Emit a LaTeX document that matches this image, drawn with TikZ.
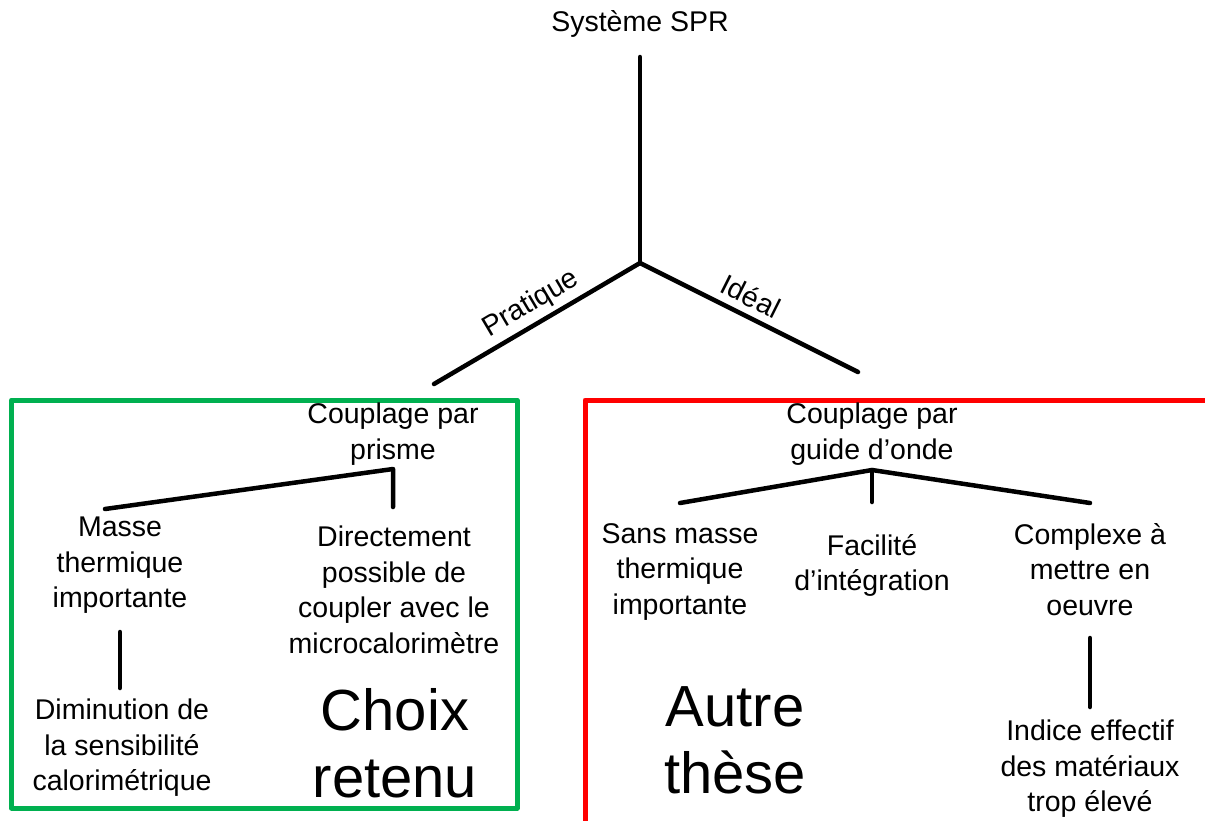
\documentclass[tikz,border=0pt]{standalone}
\usepackage{fontspec}
\setmainfont{Liberation Sans}
\definecolor{boxgreen}{RGB}{0,176,80}
\definecolor{boxred}{RGB}{255,0,0}
\begin{document}
\begin{tikzpicture}[x=1pt,y=-1pt,
  txt/.style={align=center, font=\fontsize{28.5}{35.5}\selectfont, inner sep=0pt, anchor=north},
  big/.style={align=center, font=\fontsize{58}{67}\selectfont, inner sep=0pt, anchor=north},
  lbl/.style={font=\fontsize{28.5}{35}\selectfont, inner sep=0pt},
  conn/.style={line width=4.5pt, line cap=round, line join=round},
  frame/.style={line width=5pt, line join=round},
]
\useasboundingbox (0,0) rectangle (1205,820);

% top
\node[txt] (sys) at (640,10) {Système SPR};
\coordinate (systop) at (640,57);
\coordinate (hub) at (640,263);
\coordinate (leftend) at (434,384);
\coordinate (rightend) at (858,372);
\draw[conn] (systop) -- (hub);
\draw[conn] (hub) -- (leftend);
\draw[conn] (hub) -- (rightend);
\node[lbl, rotate=30.6] (prat) at (531,304) {Pratique};
\node[lbl, rotate=-26.6] (ideal) at (751,296) {Idéal};

% green frame
\draw[frame, boxgreen] (11.5,400) rectangle (517,808);
% red frame (open)
\draw[frame, boxred] (585,822) -- (585,400) -- (1207,400);

% left subtree
\node[txt] (prisme) at (393,403) {Couplage par\\prisme};
\coordinate (pj) at (393,469);
\coordinate (pl) at (105,509);
\coordinate (pr) at (393,507);
\draw[conn] (pl) -- (pj) -- (pr);
\node[txt] (masse) at (120,517) {Masse\\thermique\\importante};
\node[txt] (direct) at (394,526) {Directement\\possible de\\coupler avec le\\microcalorimètre};
\coordinate (ma) at (120,632);
\coordinate (mb) at (120,688);
\draw[conn] (ma) -- (mb);
\node[txt] (dimin) at (122,699) {Diminution de\\la sensibilité\\calorimétrique};
\node[big] (choix) at (395,688) {Choix\\retenu};

% right subtree
\node[txt] (guide) at (872,403) {Couplage par\\guide d’onde};
\coordinate (gj) at (872,470);
\coordinate (gl) at (680,503);
\coordinate (gm) at (872,502);
\coordinate (gr) at (1090,503);
\draw[conn] (gl) -- (gj) -- (gr);
\draw[conn] (gj) -- (gm);
\node[txt] (sans) at (680,523) {Sans masse\\thermique\\importante};
\node[txt] (facil) at (872,534) {Facilité\\d’intégration};
\node[txt] (compl) at (1090,523) {Complexe à\\mettre en\\oeuvre};
\coordinate (ca) at (1090,638);
\coordinate (cb) at (1090,707);
\draw[conn] (ca) -- (cb);
\node[txt] (indice) at (1090,720) {Indice effectif\\des matériaux\\trop élevé};
\node[big] (autre) at (735,686) {Autre\\thèse};
\end{tikzpicture}
\end{document}
